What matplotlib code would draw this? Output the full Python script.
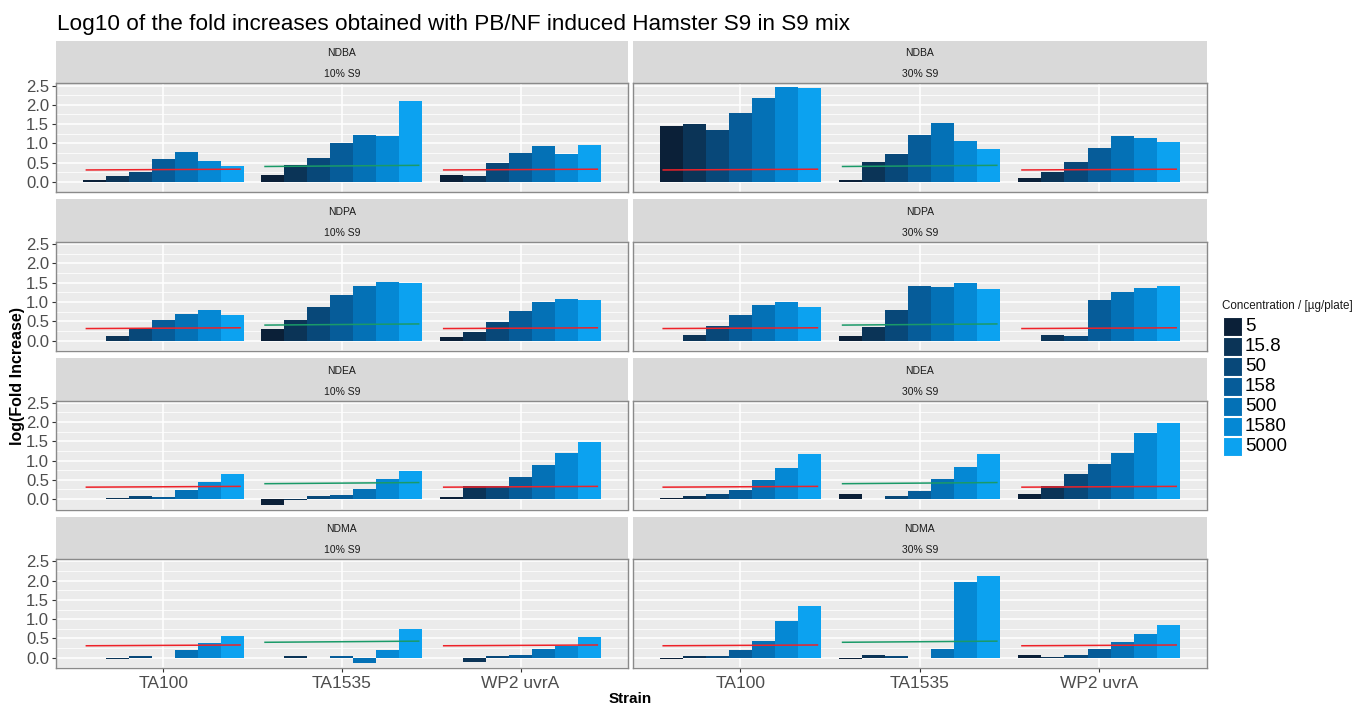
import matplotlib
matplotlib.use("Agg")
import matplotlib.pyplot as plt
from matplotlib.patches import Rectangle
import numpy as np

plt.rcParams["font.family"] = ["Liberation Sans", "DejaVu Sans"]

nan = np.nan

compounds = ["NDBA", "NDPA", "NDEA", "NDMA"]
s9_levels = ["10% S9", "30% S9"]
strains = ["TA100", "TA1535", "WP2 uvrA"]
concentrations = ["5", "15.8", "50", "158", "500", "1580", "5000"]
conc_colors = ["#0b2038", "#0b3457", "#084879", "#065c99", "#0471b6", "#0588d4", "#0ca2f0"]

# log10 fold increase, rows = strains, cols = concentrations
ndba_10 = [[0.04, 0.16, 0.27, 0.59, 0.78, 0.53, 0.42],
           [0.18, 0.45, 0.63, 1.01, 1.22, 1.18, 2.09],
           [0.18, 0.155, 0.49, 0.76, 0.94, 0.73, 0.96]]
ndba_30 = [[1.46, 1.50, 1.34, 1.78, 2.17, 2.46, 2.43],
           [0.04, 0.52, 0.72, 1.21, 1.53, 1.06, 0.85],
           [0.095, 0.27, 0.52, 0.88, 1.18, 1.14, 1.03]]
ndpa_10 = [[nan, 0.11, 0.29, 0.52, 0.68, 0.80, 0.66],
           [0.31, 0.53, 0.88, 1.19, 1.42, 1.51, 1.48],
           [0.09, 0.23, 0.48, 0.77, 1.00, 1.08, 1.04]]
ndpa_30 = [[nan, 0.15, 0.38, 0.66, 0.91, 0.99, 0.88],
           [0.11, 0.35, 0.78, 1.41, 1.40, 1.48, 1.34],
           [nan, 0.15, 0.11, 1.06, 1.26, 1.37, 1.42]]
ndea_10 = [[nan, 0.04, 0.09, 0.05, 0.23, 0.45, 0.65],
           [-0.145, -0.02, 0.085, 0.11, 0.25, 0.51, 0.73],
           [0.05, 0.34, 0.34, 0.58, 0.89, 1.19, 1.48]]
ndea_30 = [[0.04, 0.09, 0.12, 0.23, 0.49, 0.82, 1.16],
           [0.12, nan, 0.085, 0.20, 0.51, 0.84, 1.17],
           [0.12, 0.35, 0.65, 0.92, 1.20, 1.71, 1.98]]
ndma_10 = [[nan, -0.03, 0.04, nan, 0.19, 0.39, 0.56],
           [nan, 0.04, nan, 0.04, -0.14, 0.19, 0.74],
           [nan, -0.10, 0.04, 0.06, 0.22, 0.30, 0.54]]
ndma_30 = [[-0.03, 0.04, 0.04, 0.20, 0.43, 0.94, 1.33],
           [-0.03, 0.07, 0.04, nan, 0.23, 1.96, 2.13],
           [0.07, 0.03, 0.07, 0.23, 0.41, 0.61, 0.86]]

panel_data = {
    ("NDBA", "10% S9"): ndba_10, ("NDBA", "30% S9"): ndba_30,
    ("NDPA", "10% S9"): ndpa_10, ("NDPA", "30% S9"): ndpa_30,
    ("NDEA", "10% S9"): ndea_10, ("NDEA", "30% S9"): ndea_30,
    ("NDMA", "10% S9"): ndma_10, ("NDMA", "30% S9"): ndma_30,
}

# threshold lines per strain (start, end)
threshold_start = [0.31, 0.40, 0.31]
threshold_end = [0.33, 0.43, 0.33]
threshold_colors = ["#ee2229", "#1a9a68", "#ee2229"]

W, H = 1357, 707
fig = plt.figure(figsize=(W / 100, H / 100), dpi=100)


def px_axes(x0, y0, w, h):
    return fig.add_axes([x0 / W, 1 - (y0 + h) / H, w / W, h / H])


col_x = [56, 632.7]
col_w = [571.7, 574]
row_top = 40.7
row_step = 158.6
strip_h = 42.6
panel_h = 109

dodge = 0.9
bw = dodge / len(concentrations)
xs = np.arange(len(strains))

for r, comp in enumerate(compounds):
    for c, s9 in enumerate(s9_levels):
        top = row_top + r * row_step
        sax = px_axes(col_x[c], top, col_w[c], strip_h)
        sax.set_facecolor("#d9d9d9")
        sax.set_xticks([])
        sax.set_yticks([])
        for sp in sax.spines.values():
            sp.set_visible(False)
        sax.text(0.5, 0.70, comp, ha="center", va="center", fontsize=7.5, color="#1a1a1a")
        sax.text(0.5, 0.21, s9, ha="center", va="center", fontsize=7.5, color="#1a1a1a")

        ax = px_axes(col_x[c], top + strip_h, col_w[c], panel_h)
        ax.set_facecolor("#ebebeb")
        ax.set_axisbelow(True)
        vals = np.array(panel_data[(comp, s9)])
        for j in range(len(concentrations)):
            ax.bar(xs + (j - 3) * bw, vals[:, j], width=bw, color=conc_colors[j],
                   linewidth=0, zorder=2)
        for i in range(len(strains)):
            ax.plot([xs[i] - 0.43, xs[i] + 0.43], [threshold_start[i], threshold_end[i]],
                    color=threshold_colors[i], lw=1.1, zorder=3)

        ax.set_xlim(-0.6, 2.6)
        ax.set_ylim(-0.27, 2.56)
        ax.set_yticks([0.0, 0.5, 1.0, 1.5, 2.0, 2.5])
        ax.set_yticks([-0.25, 0.25, 0.75, 1.25, 1.75, 2.25], minor=True)
        ax.set_xticks(xs)
        ax.grid(which="major", color="white", lw=1.1)
        ax.grid(which="minor", axis="y", color="white", lw=0.55)
        for sp in ax.spines.values():
            sp.set_color("#8a8a8a")
            sp.set_linewidth(1.0)
        ax.tick_params(which="minor", length=0)
        if c == 0:
            ax.set_yticklabels(["0.0", "0.5", "1.0", "1.5", "2.0", "2.5"])
            ax.tick_params(axis="y", length=3, color="#333333", labelsize=12,
                           labelcolor="#4d4d4d", pad=2)
        else:
            ax.tick_params(axis="y", length=0, labelleft=False)
        if r == len(compounds) - 1:
            ax.set_xticklabels(strains)
            ax.tick_params(axis="x", length=3, color="#333333", labelsize=12.5,
                           labelcolor="#4d4d4d", pad=3)
        else:
            ax.tick_params(axis="x", length=0, labelbottom=False)

fig.text(57 / W, 1 - 30 / H, "Log10 of the fold increases obtained with PB/NF induced Hamster S9 in S9 mix",
         ha="left", va="baseline", fontsize=16.2, color="black")
fig.text(18 / W, 1 - 376 / H, "log(Fold Increase)", rotation=90, ha="center", va="center",
         fontsize=11.5, fontweight="bold")
fig.text(630 / W, 1 - 706 / H, "Strain", ha="center", va="bottom", fontsize=11, fontweight="bold")

# legend
fig.text(1222 / W, 1 - 306 / H, "Concentration / [\u00b5g/plate]", ha="left", va="center",
         fontsize=8.4, color="#1a1a1a")
key_top = 316.5
key_step = 20
for j, lab in enumerate(concentrations):
    y0 = key_top + j * key_step
    fig.patches.append(Rectangle((1222.5 / W, 1 - (y0 + 19) / H), 19 / W, 19 / H,
                                 transform=fig.transFigure, facecolor=conc_colors[j],
                                 edgecolor="white", lw=0.8))
    fig.text(1245 / W, 1 - (y0 + 9.8) / H, lab, ha="left", va="center", fontsize=13.5,
             color="black")

fig.savefig("out.png", dpi=100)
